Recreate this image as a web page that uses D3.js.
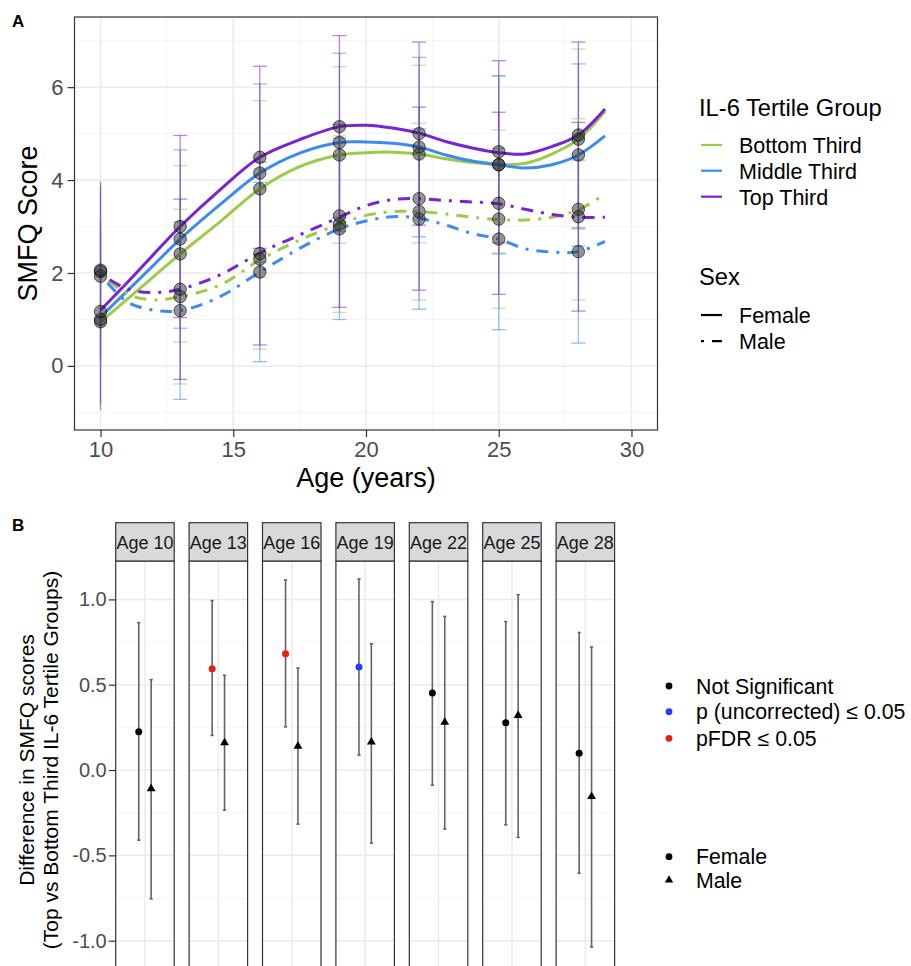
<!DOCTYPE html>
<html>
<head>
<meta charset="utf-8">
<script src="https://cdn.jsdelivr.net/npm/d3@7/dist/d3.min.js"></script>
<style>
  body { margin: 0; background: #fff; }
  text { font-family: "Liberation Sans", Arial, Helvetica, sans-serif; }
</style>
</head>
<body>
<div id="chart"></div>
<script>
// Panel A: SMFQ trajectories by IL-6 tertile and sex. Panel B: top-vs-bottom differences per age.

const ages = [10, 13, 16, 19, 22, 25, 28];
const groups = ["Bottom Third", "Middle Third", "Top Third"];
const sexes = ["Female", "Male"];
const groupColors = ["#9ccb4a", "#3d8bef", "#7b22d3"];

const meanFemaleBottom = [0.95, 2.41, 3.81, 4.54, 4.56, 4.33, 4.88];
const meanFemaleMiddle = [1.00, 2.73, 4.15, 4.81, 4.71, 4.33, 4.54];
const meanFemaleTop    = [1.17, 3.00, 4.49, 5.15, 5.00, 4.61, 4.97];
const meanMaleBottom   = [2.03, 1.49, 2.30, 3.05, 3.32, 3.16, 3.37];
const meanMaleMiddle   = [1.93, 1.19, 2.02, 2.95, 3.16, 2.73, 2.46];
const meanMaleTop      = [2.06, 1.65, 2.42, 3.23, 3.60, 3.50, 3.21];

const sdFemaleBottom = [1.90, 1.90, 1.90, 1.90, 1.91, 1.90, 1.94];
const sdFemaleMiddle = [1.95, 1.92, 1.92, 1.92, 1.93, 1.92, 1.96];
const sdFemaleTop    = [2.00, 1.96, 1.96, 1.96, 1.97, 1.96, 2.00];
const sdMaleBottom   = [1.90, 1.88, 1.94, 1.90, 1.90, 1.92, 1.95];
const sdMaleMiddle   = [1.92, 1.91, 1.93, 1.95, 1.94, 1.95, 1.97];
const sdMaleTop      = [1.91, 1.94, 1.97, 1.97, 1.97, 1.96, 2.03];

// fitted curves, read at these ages
const fitAges = [10, 11, 12, 13, 14.5, 16, 17.5, 19, 20, 21, 22, 23, 24, 25, 26, 27, 28, 29];
const fitFemaleBottom = [0.95, 1.43, 1.92, 2.41, 3.10, 3.81, 4.29, 4.54, 4.59, 4.60, 4.56, 4.46, 4.38, 4.33, 4.36, 4.56, 4.88, 5.48];
const fitFemaleMiddle = [1.05, 1.61, 2.17, 2.73, 3.47, 4.15, 4.58, 4.81, 4.82, 4.79, 4.71, 4.54, 4.41, 4.33, 4.26, 4.33, 4.54, 4.95];
const fitFemaleTop    = [1.20, 1.79, 2.40, 3.00, 3.79, 4.49, 4.87, 5.15, 5.18, 5.12, 5.01, 4.83, 4.69, 4.59, 4.56, 4.72, 4.97, 5.53];
const fitMaleBottom   = [2.00, 1.55, 1.42, 1.49, 1.74, 2.28, 2.71, 3.05, 3.24, 3.32, 3.32, 3.27, 3.20, 3.15, 3.14, 3.20, 3.36, 3.70];
const fitMaleMiddle   = [1.97, 1.38, 1.20, 1.19, 1.49, 2.02, 2.53, 2.95, 3.12, 3.21, 3.18, 3.03, 2.85, 2.73, 2.52, 2.45, 2.46, 2.68];
const fitMaleTop      = [1.98, 1.66, 1.58, 1.65, 1.96, 2.43, 2.82, 3.20, 3.45, 3.58, 3.60, 3.56, 3.53, 3.49, 3.37, 3.26, 3.20, 3.20];

// panel B: top vs bottom third difference with CI
const diffFemale   = [0.224, 0.594, 0.682, 0.604, 0.452, 0.277, 0.098];
const diffFemaleLo = [-0.411, 0.203, 0.253, 0.088, -0.089, -0.321, -0.605];
const diffFemaleHi = [0.864, 0.993, 1.114, 1.120, 0.987, 0.870, 0.806];
const diffMale     = [-0.109, 0.160, 0.140, 0.164, 0.280, 0.320, -0.155];
const diffMaleLo   = [-0.755, -0.235, -0.317, -0.428, -0.346, -0.395, -1.037];
const diffMaleHi   = [0.530, 0.555, 0.598, 0.740, 0.900, 1.028, 0.721];
const sigLevels = ["Not Significant", "p (uncorrected) \u2264 0.05", "pFDR \u2264 0.05"];
const sigColors = ["#000000", "#1f3dff", "#e3230f"];
const sigFemale = [0, 2, 2, 1, 0, 0, 0];
const sigMale   = [0, 0, 0, 0, 0, 0, 0];

const W = 911, H = 966;
const svg = d3.select("#chart").append("svg").attr("width", W).attr("height", H);

const GRID = "#ebebeb", BORDER = "#333333", AXTXT = "#4d4d4d";
const maleDash = "3,8,12,8";

// ---------------- Panel A ----------------
const A = { left: 74.5, right: 657.5, top: 17, bottom: 430 };
const x = d3.scaleLinear().domain([9.02, 30.98]).range([A.left, A.right]);
const y = d3.scaleLinear().domain([-1.38, 7.51]).range([A.bottom, A.top]);

const series = [
  { sex: "Female", g: 0, mean: meanFemaleBottom, sd: sdFemaleBottom, fit: fitFemaleBottom },
  { sex: "Female", g: 1, mean: meanFemaleMiddle, sd: sdFemaleMiddle, fit: fitFemaleMiddle },
  { sex: "Female", g: 2, mean: meanFemaleTop,    sd: sdFemaleTop,    fit: fitFemaleTop },
  { sex: "Male",   g: 0, mean: meanMaleBottom,   sd: sdMaleBottom,   fit: fitMaleBottom },
  { sex: "Male",   g: 1, mean: meanMaleMiddle,   sd: sdMaleMiddle,   fit: fitMaleMiddle },
  { sex: "Male",   g: 2, mean: meanMaleTop,      sd: sdMaleTop,      fit: fitMaleTop },
];

const gA = svg.append("g");
// grid
const xMinor = [12.5, 17.5, 22.5, 27.5], yMinor = [-1, 1, 3, 5, 7];
const xMajor = [10, 15, 20, 25, 30], yMajor = [0, 2, 4, 6];
gA.selectAll("line.xminor").data(xMinor).join("line")
  .attr("x1", d => x(d)).attr("x2", d => x(d)).attr("y1", A.top).attr("y2", A.bottom)
  .attr("stroke", "#f3f3f3").attr("stroke-width", 0.8);
gA.selectAll("line.yminor").data(yMinor).join("line")
  .attr("y1", d => y(d)).attr("y2", d => y(d)).attr("x1", A.left).attr("x2", A.right)
  .attr("stroke", "#f3f3f3").attr("stroke-width", 0.8);
gA.selectAll("line.xmajor").data(xMajor).join("line")
  .attr("x1", d => x(d)).attr("x2", d => x(d)).attr("y1", A.top).attr("y2", A.bottom)
  .attr("stroke", GRID).attr("stroke-width", 1.5);
gA.selectAll("line.ymajor").data(yMajor).join("line")
  .attr("y1", d => y(d)).attr("y2", d => y(d)).attr("x1", A.left).attr("x2", A.right)
  .attr("stroke", GRID).attr("stroke-width", 1.5);

// error bars (mean ± sd); no caps drawn at the first wave, as in the source
const bars = series.flatMap(s => ages.map((a, i) => ({ a, i, s, lo: s.mean[i] - s.sd[i], hi: s.mean[i] + s.sd[i] })));
const gErr = gA.append("g").attr("stroke-width", 1.3);
bars.forEach(b => {
  const col = groupColors[b.s.g];
  gErr.append("line").attr("x1", x(b.a)).attr("x2", x(b.a)).attr("y1", y(b.lo)).attr("y2", y(b.hi))
    .attr("stroke", col).attr("stroke-opacity", 0.55);
  if (b.i > 0) {
    [b.lo, b.hi].forEach(v => {
      gErr.append("line").attr("x1", x(b.a) - 7).attr("x2", x(b.a) + 7).attr("y1", y(v)).attr("y2", y(v))
        .attr("stroke", col).attr("stroke-opacity", 0.55);
    });
  }
});

// fitted curves
const line = d3.line().x(d => x(d[0])).y(d => y(d[1])).curve(d3.curveCatmullRom.alpha(0.5));
gA.selectAll("path.fit").data(series).join("path").attr("class", "fit")
  .attr("d", s => line(fitAges.map((a, i) => [a, s.fit[i]])))
  .attr("fill", "none").attr("stroke", s => groupColors[s.g]).attr("stroke-width", 3)
  .attr("stroke-dasharray", s => s.sex === "Male" ? maleDash : null);

// points
const pts = series.flatMap(s => ages.map((a, i) => ({ a, v: s.mean[i] })));
gA.selectAll("circle.pt").data(pts).join("circle").attr("class", "pt")
  .attr("cx", d => x(d.a)).attr("cy", d => y(d.v)).attr("r", 6.2)
  .attr("fill", "#2b2b2b").attr("fill-opacity", 0.5)
  .attr("stroke", "#000").attr("stroke-opacity", 0.6).attr("stroke-width", 1);

gA.append("rect").attr("x", A.left).attr("y", A.top).attr("width", A.right - A.left).attr("height", A.bottom - A.top)
  .attr("fill", "none").attr("stroke", BORDER).attr("stroke-width", 1.2);

// axes
const axA_x = gA.append("g").attr("transform", `translate(0,${A.bottom})`)
  .call(d3.axisBottom(x).tickValues(xMajor).tickSize(7).tickPadding(4));
const axA_y = gA.append("g").attr("transform", `translate(${A.left},0)`)
  .call(d3.axisLeft(y).tickValues(yMajor).tickSize(7).tickPadding(4));
[axA_x, axA_y].forEach(g => {
  g.select(".domain").remove();
  g.selectAll(".tick line").attr("stroke", BORDER).attr("stroke-width", 1.2);
  g.selectAll(".tick text").attr("fill", AXTXT).attr("font-size", 22).attr("font-family", null);
});

gA.append("text").attr("x", (A.left + A.right) / 2).attr("y", 487).attr("text-anchor", "middle")
  .attr("font-size", 27).attr("fill", "#000").text("Age (years)");
gA.append("text").attr("transform", `translate(37,${(A.top + A.bottom) / 2}) rotate(-90)`)
  .attr("text-anchor", "middle").attr("font-size", 27).attr("fill", "#000").text("SMFQ Score");
svg.append("text").attr("x", 12).attr("y", 27).attr("font-size", 17).attr("font-weight", "bold").text("A");

// legend A
const legA = svg.append("g");
legA.append("text").attr("x", 699).attr("y", 116).attr("font-size", 23.7).text("IL-6 Tertile Group");
const keyY = [145, 170.7, 196.7];
groups.forEach((g, i) => {
  legA.append("line").attr("x1", 701).attr("x2", 722).attr("y1", keyY[i]).attr("y2", keyY[i])
    .attr("stroke", groupColors[i]).attr("stroke-width", 2.2);
  legA.append("text").attr("x", 739).attr("y", keyY[i] + 7.8).attr("font-size", 21.5).text(g);
});
legA.append("text").attr("x", 699).attr("y", 285).attr("font-size", 23.7).text("Sex");
const sexKeyY = [315, 341.2];
sexes.forEach((s, i) => {
  legA.append("line").attr("x1", 701).attr("x2", 722).attr("y1", sexKeyY[i]).attr("y2", sexKeyY[i])
    .attr("stroke", "#000").attr("stroke-width", 2.2)
    .attr("stroke-dasharray", s === "Male" ? maleDash : null);
  legA.append("text").attr("x", 739).attr("y", sexKeyY[i] + 7.8).attr("font-size", 21.5).text(s);
});

// ---------------- Panel B ----------------
const B = { left: 115.7, right: 614.6, top: 561, bottom: 968, stripTop: 522.7 };
const yB = d3.scaleLinear().domain([-1.16, 1.225]).range([B.bottom, B.top]);
const facet = d3.scaleBand().domain(ages).range([B.left, B.right]).paddingInner(0.203).paddingOuter(0);
const dodge = d3.scalePoint().domain(sexes).range([-6.2, 6.2]);
const bw = facet.bandwidth();

const yMajorB = [-1, -0.5, 0, 0.5, 1], yMinorB = [-0.75, -0.25, 0.25, 0.75];
const rowsB = ages.flatMap((a, i) => [
  { a, sex: "Female", v: diffFemale[i], lo: diffFemaleLo[i], hi: diffFemaleHi[i], sig: sigFemale[i] },
  { a, sex: "Male",   v: diffMale[i],   lo: diffMaleLo[i],   hi: diffMaleHi[i],   sig: sigMale[i] },
]);

const gB = svg.append("g");
const panels = gB.selectAll("g.panel").data(ages).join("g").attr("class", "panel")
  .attr("transform", d => `translate(${facet(d)},0)`);

panels.each(function (a) {
  const p = d3.select(this);
  p.selectAll("line.minor").data(yMinorB).join("line")
    .attr("x1", 0).attr("x2", bw).attr("y1", d => yB(d)).attr("y2", d => yB(d))
    .attr("stroke", "#f3f3f3").attr("stroke-width", 0.8);
  p.selectAll("line.major").data(yMajorB).join("line")
    .attr("x1", 0).attr("x2", bw).attr("y1", d => yB(d)).attr("y2", d => yB(d))
    .attr("stroke", GRID).attr("stroke-width", 1.5);
  p.append("line").attr("x1", bw / 2).attr("x2", bw / 2).attr("y1", B.top).attr("y2", B.bottom)
    .attr("stroke", GRID).attr("stroke-width", 1.5);

  const rows = rowsB.filter(r => r.a === a);
  rows.forEach(r => {
    const cx = bw / 2 + dodge(r.sex);
    p.append("line").attr("x1", cx).attr("x2", cx).attr("y1", yB(r.lo)).attr("y2", yB(r.hi))
      .attr("stroke", "#636363").attr("stroke-width", 1.6);
    [r.lo, r.hi].forEach(v => p.append("line").attr("x1", cx - 1.6).attr("x2", cx + 1.6)
      .attr("y1", yB(v)).attr("y2", yB(v)).attr("stroke", "#636363").attr("stroke-width", 1.6));
    if (r.sex === "Female") {
      p.append("circle").attr("cx", cx).attr("cy", yB(r.v)).attr("r", 3.5).attr("fill", sigColors[r.sig]);
    } else {
      p.append("path").attr("d", d3.symbol(d3.symbolTriangle, 34)())
        .attr("transform", `translate(${cx},${yB(r.v)})`).attr("fill", sigColors[r.sig]);
    }
  });

  p.append("rect").attr("x", 0).attr("y", B.top).attr("width", bw).attr("height", B.bottom - B.top)
    .attr("fill", "none").attr("stroke", BORDER).attr("stroke-width", 1.2);
  p.append("rect").attr("x", 0).attr("y", B.stripTop).attr("width", bw).attr("height", B.top - B.stripTop)
    .attr("fill", "#d9d9d9").attr("stroke", BORDER).attr("stroke-width", 1.2);
  p.append("text").attr("x", bw / 2).attr("y", B.top - 12.5).attr("text-anchor", "middle")
    .attr("font-size", 18).attr("fill", "#1a1a1a").text(`Age ${a}`);
});

const axB = gB.append("g").attr("transform", `translate(${B.left},0)`)
  .call(d3.axisLeft(yB).tickValues(yMajorB).tickFormat(d => d.toFixed(1)).tickSize(7).tickPadding(2));
axB.select(".domain").remove();
axB.selectAll(".tick line").attr("stroke", BORDER).attr("stroke-width", 1.2);
axB.selectAll(".tick text").attr("fill", AXTXT).attr("font-size", 20).attr("font-family", null);

const yTitleB = gB.append("text").attr("transform", "translate(0,760) rotate(-90)")
  .attr("text-anchor", "middle").attr("font-size", 21).attr("fill", "#000");
yTitleB.append("tspan").attr("x", 0).attr("y", 33.5).text("Difference in SMFQ scores");
yTitleB.append("tspan").attr("x", 0).attr("y", 57.5).text("(Top vs Bottom Third IL-6 Tertile Groups)");
svg.append("text").attr("x", 12).attr("y", 531).attr("font-size", 17).attr("font-weight", "bold").text("B");

// legend B
const legB = svg.append("g");
const sigY = [686, 711.7, 738.3];
sigLevels.forEach((s, i) => {
  legB.append("circle").attr("cx", 669).attr("cy", sigY[i]).attr("r", 3.4).attr("fill", sigColors[i]);
  legB.append("text").attr("x", 696).attr("y", sigY[i] + 7.6).attr("font-size", 21.3).text(s);
});
const shapeY = [856.7, 880];
legB.append("circle").attr("cx", 669).attr("cy", shapeY[0]).attr("r", 3.4).attr("fill", "#000");
legB.append("text").attr("x", 696).attr("y", shapeY[0] + 7.6).attr("font-size", 21.3).text(sexes[0]);
legB.append("path").attr("d", d3.symbol(d3.symbolTriangle, 30)())
  .attr("transform", `translate(669,${shapeY[1]})`).attr("fill", "#000");
legB.append("text").attr("x", 696).attr("y", shapeY[1] + 7.6).attr("font-size", 21.3).text(sexes[1]);
</script>
</body>
</html>
